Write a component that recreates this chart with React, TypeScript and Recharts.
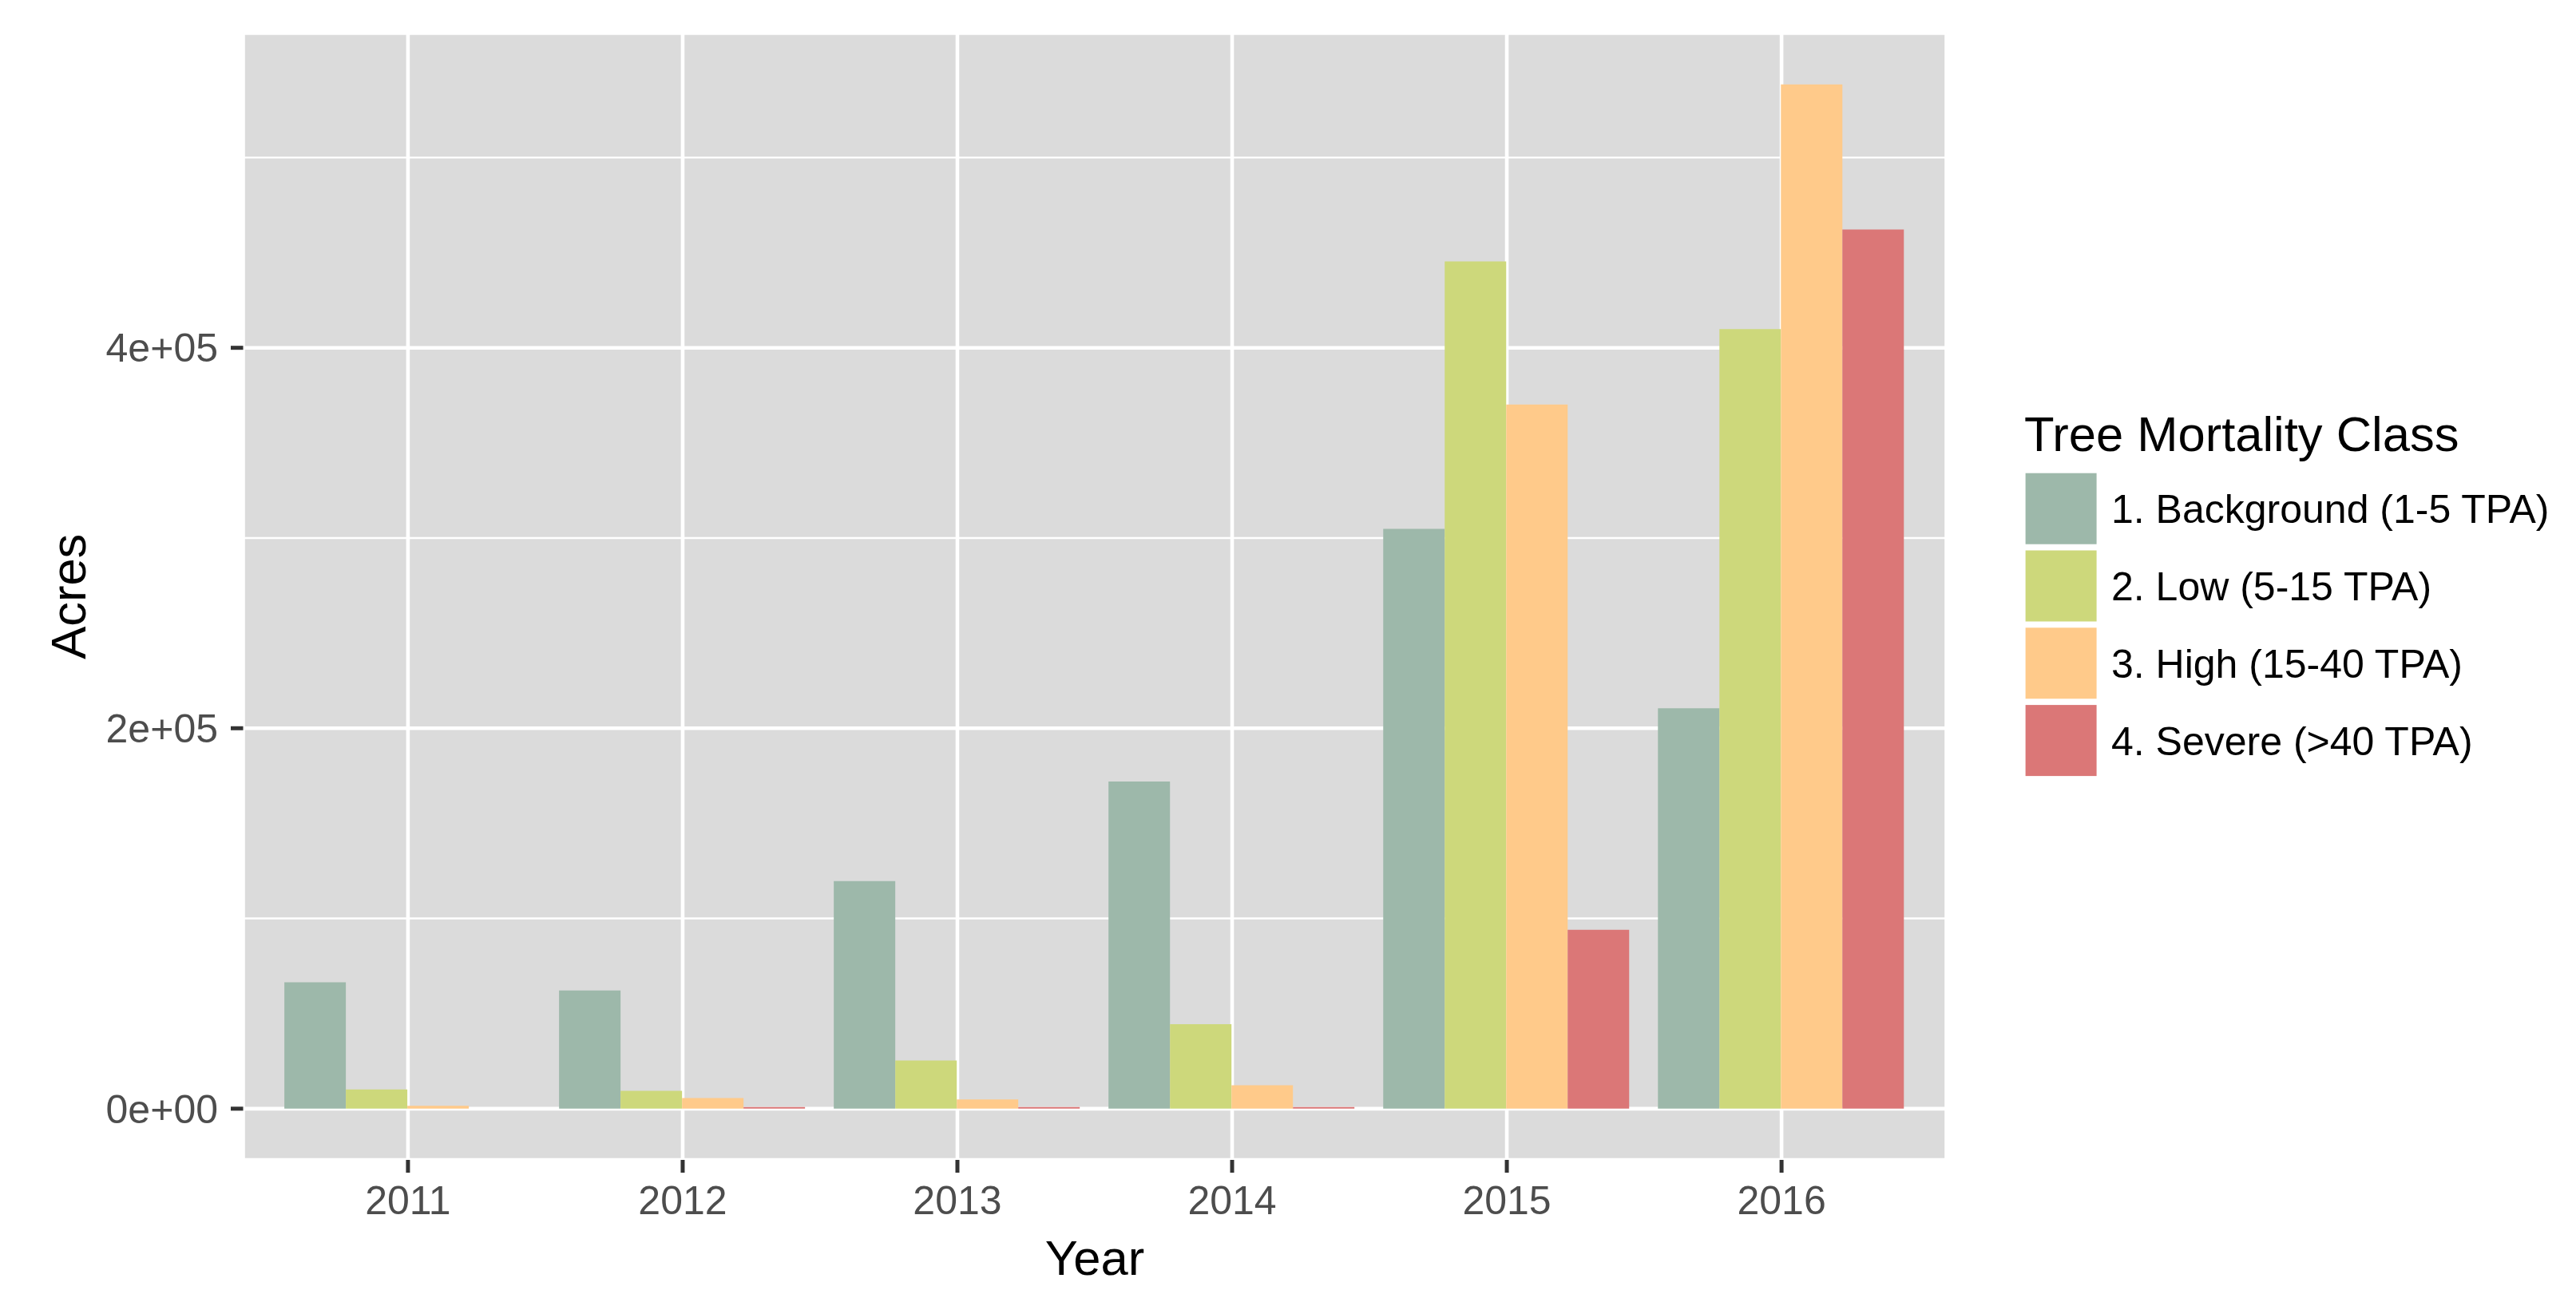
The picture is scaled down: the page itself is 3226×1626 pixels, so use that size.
import React from 'react';
import { BarChart, Bar, XAxis, YAxis, CartesianGrid, Legend, Label } from 'recharts';

// acres by year and tree mortality class
const years = ['2011', '2012', '2013', '2014', '2015', '2016'];
const background = [66500, 62200, 119600, 172000, 304800, 210500];
const low = [10100, 9400, 25300, 44400, 445400, 409800];
const high = [1500, 5600, 4900, 12300, 370200, 538500];
const severe = [0, 900, 900, 900, 94000, 462200];

const classNames = ['1. Background (1-5 TPA)', '2. Low (5-15 TPA)', '3. High (15-40 TPA)', '4. Severe (>40 TPA)'];
const classColors = ['#9DB8AA', '#CDD87B', '#FFCA8A', '#DB7777'];
const seriesKeys = ['background', 'low', 'high', 'severe'];

const yTicks = [0, 200000, 400000];
const yTickLabels = ['0e+00', '2e+05', '4e+05'];
const yMinorTicks = [100000, 300000, 500000];

const data = years.map((year, i) => ({
  year,
  background: background[i],
  low: low[i],
  high: high[i],
  severe: severe[i],
}));

// ggplot-style 5% expansion of the y range
const maxVal = Math.max(...background, ...low, ...high, ...severe);
const yDomain = [-maxVal * 0.05, maxVal * 1.05];

const FONT = '"Liberation Sans", Arial, sans-serif';

function MortalityLegend({ payload }: any) {
  return (
    <svg width={700} height={520} style={{ display: 'block', fontFamily: FONT }}>
      <text x={15} y={85} fontSize={61.5} fill="#000000">Tree Mortality Class</text>
      {(payload || []).map((p: any, i: number) => {
        const top = 112.7 + i * 96.8;
        return (
          <g key={p.value}>
            <rect x={16.6} y={top} width={89} height={89} fill={p.color} />
            <text x={124} y={top + 44.5 + 18} fontSize={50} fill="#000000">{p.value}</text>
          </g>
        );
      })}
    </svg>
  );
}

export default function App() {
  return (
    <div style={{ position: 'absolute', left: 0, top: 0, width: 3226, height: 1626, background: '#ffffff', fontFamily: FONT }}>
      <BarChart
        width={3226}
        height={1626}
        data={data}
        margin={{ top: 41.5, right: 788.5, bottom: 0, left: 0 }}
        barCategoryGap="5%"
        barGap={0}
      >
        <CartesianGrid fill="#DBDBDB" stroke="#FFFFFF" strokeWidth={2.4} vertical={false} horizontalValues={yMinorTicks} />
        <CartesianGrid stroke="#FFFFFF" strokeWidth={4.6} />
        <XAxis
          dataKey="year"
          height={173}
          padding={{ left: 34.4, right: 34.4 }}
          interval={0}
          tickSize={16}
          tickMargin={16}
          axisLine={false}
          tickLine={{ stroke: '#333333', strokeWidth: 5 }}
          tick={{ fill: '#4D4D4D', fontSize: 50, fontFamily: FONT }}
        >
          <Label
            content={(props: any) => {
              const vb = props.viewBox || { x: 304.5, y: 1453, width: 2133, height: 173 };
              return (
                <text x={vb.x + vb.width / 2} y={vb.y + 144} textAnchor="middle" fontSize={61.5} fill="#000000" fontFamily={FONT}>
                  Year
                </text>
              );
            }}
          />
        </XAxis>
        <YAxis
          type="number"
          width={304.5}
          domain={yDomain}
          allowDataOverflow
          ticks={yTicks}
          tickFormatter={(v: number) => yTickLabels[yTicks.indexOf(v)]}
          tickSize={15.5}
          tickMargin={16}
          axisLine={false}
          tickLine={{ stroke: '#333333', strokeWidth: 5 }}
          tick={{ fill: '#4D4D4D', fontSize: 50, fontFamily: FONT }}
        >
          <Label
            content={(props: any) => {
              const vb = props.viewBox || { x: 0, y: 41.5, width: 304.5, height: 1411.5 };
              const x = vb.x + 107;
              const y = vb.y + vb.height / 2;
              return (
                <text x={x} y={y} transform={`rotate(-90, ${x}, ${y})`} textAnchor="middle" fontSize={61.5} fill="#000000" fontFamily={FONT}>
                  Acres
                </text>
              );
            }}
          />
        </YAxis>
        <Legend
          layout="horizontal"
          verticalAlign="middle"
          align="center"
          wrapperStyle={{ left: 2520, top: 480, width: 700, height: 520 }}
          content={<MortalityLegend />}
        />
        {seriesKeys.map((k, i) => (
          <Bar key={k} dataKey={k} name={classNames[i]} fill={classColors[i]} isAnimationActive={false} />
        ))}
      </BarChart>
    </div>
  );
}
